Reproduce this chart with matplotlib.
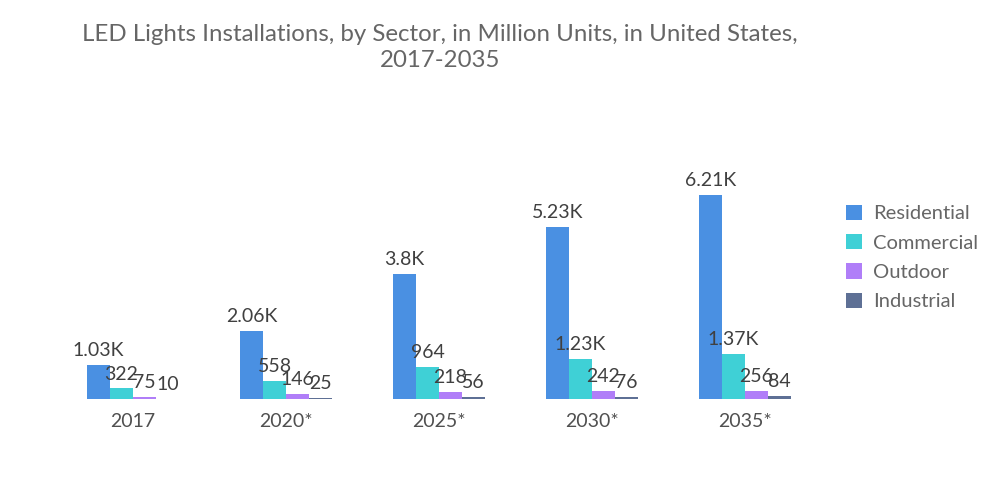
import numpy as np
import matplotlib as mpl
mpl.use("Agg")
import matplotlib.pyplot as plt

plt.rcParams["font.family"] = ["Lato", "DejaVu Sans"]

years = ["2017", "2020*", "2025*", "2030*", "2035*"]
residential = [1030, 2060, 3800, 5230, 6210]
commercial = [322, 558, 964, 1230, 1370]
outdoor = [75, 146, 218, 242, 256]
industrial = [10, 25, 56, 76, 84]

series = [("Residential", residential, "#4A90E2"),
          ("Commercial", commercial, "#3FD0D6"),
          ("Outdoor", outdoor, "#B07EF8"),
          ("Industrial", industrial, "#5E7095")]

def fmt(v):
    if v >= 1000:
        s = f"{v/1000:.2f}".rstrip("0").rstrip(".")
        return s + "K"
    return str(v)

fig = plt.figure(figsize=(10, 5.04), dpi=100)
ax = fig.add_axes([0.0565, 0.2083, 0.765, 0.494])

x = np.arange(len(years))
w = 0.15
for i, (name, vals, col) in enumerate(series):
    pos = x + (i - 1.5) * w
    ax.bar(pos, vals, width=w, color=col, label=name, edgecolor="none")
    for p, v in zip(pos, vals):
        ax.text(p, v + 180, fmt(v), ha="center", va="bottom", fontsize=14, color="#404040")

ax.set_xlim(-0.5, 4.5)
ax.set_ylim(0, 7580)
ax.set_xticks(x)
ax.set_xticklabels(years, fontsize=14, color="#505050")
ax.tick_params(axis="x", length=0, pad=10)
ax.set_yticks([])
for s in ["top", "right", "left", "bottom"]:
    ax.spines[s].set_visible(False)

fig.text(0.44, 0.906, "LED Lights Installations, by Sector, in Million Units, in United States,\n2017-2035",
         ha="center", va="center", fontsize=17.3, color="#666666", linespacing=1.3)

leg = fig.legend(loc="upper left", bbox_to_anchor=(0.828, 0.63), frameon=False, fontsize=14.5,
                 handlelength=0.8, handleheight=0.8, handletextpad=0.55, labelspacing=0.58)
for t in leg.get_texts():
    t.set_color("#666666")

fig.savefig("out.png", dpi=100)
